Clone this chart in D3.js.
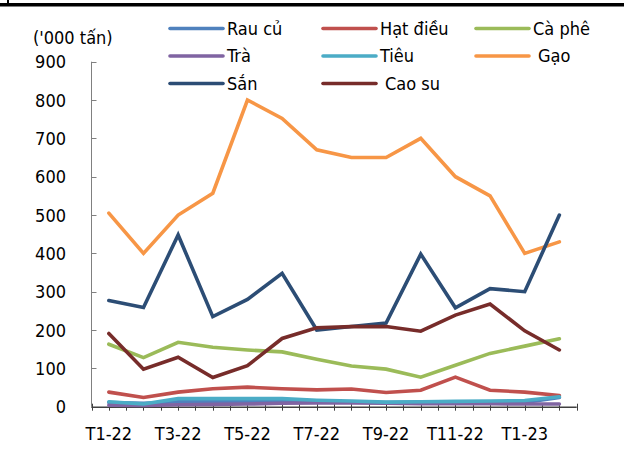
<!DOCTYPE html>
<html><head><meta charset="utf-8">
<script src="https://cdn.jsdelivr.net/npm/d3@7"></script>
<style>
html,body{margin:0;padding:0;background:#fff;}
svg text{font-family:"DejaVu Sans Condensed","DejaVu Sans",sans-serif;font-stretch:condensed;fill:#000;}
</style>
</head><body>
<svg id="c" width="624" height="450"></svg>
<script>
const months = ["T1-22","T2-22","T3-22","T4-22","T5-22","T6-22","T7-22","T8-22","T9-22","T10-22","T11-22","T12-22","T1-23","T2-23"];
const xLabels = ["T1-22","T3-22","T5-22","T7-22","T9-22","T11-22","T1-23"];
const yTicks = [0,100,200,300,400,500,600,700,800,900];
const unitLabel = "('000 tấn)";

const seriesNames = ["Rau củ","Hạt điều","Cà phê","Trà","Tiêu","Gạo","Sắn","Cao su"];
const seriesColors = ["#4F81BD","#C0504D","#9BBB59","#8064A2","#4BACC6","#F79646","#2C4D75","#772C2A"];
const rauCu   = [11, 9, 13, 14, 14, 15, 13, 12, 11, 12, 12, 12, 11, 24];
const hatDieu = [38, 24, 38, 47, 51, 47, 44, 46, 37, 43, 77, 43, 38, 29];
const caPhe   = [163, 128, 168, 155, 148, 143, 124, 106, 98, 77, 108, 139, 158, 177];
const tra     = [4, 3, 5, 6, 7, 9, 10, 10, 9, 8, 8, 8, 7, 7];
const tieu    = [13, 7, 21, 21, 21, 21, 17, 15, 12, 13, 14, 15, 16, 26];
const gao     = [505, 400, 500, 557, 800, 752, 670, 650, 650, 700, 600, 550, 400, 430];
const san     = [277, 259, 448, 235, 280, 348, 200, 209, 218, 398, 258, 308, 300, 500];
const caoSu   = [191, 98, 129, 76, 107, 178, 206, 209, 209, 197, 239, 268, 198, 148];
const seriesValues = [rauCu, hatDieu, caPhe, tra, tieu, gao, san, caoSu];

const svg = d3.select("#c");
const x = d3.scaleBand().domain(months).range([91.5, 576.7]);
const y = d3.scaleLinear().domain([0, 900]).range([406.7, 61.7]);
const cx = m => x(m) + x.bandwidth() / 2;

// top rule
svg.append("rect").attr("x", 0).attr("y", 3).attr("width", 624).attr("height", 3.5).attr("fill", "#000");
svg.append("rect").attr("x", 7).attr("y", 0).attr("width", 2).attr("height", 3).attr("fill", "#000");

// unit label
svg.append("text").attr("x", 33).attr("y", 44).attr("font-size", 18).text(unitLabel);

// y axis
const axisCol = "#808080";
const gy = svg.append("g");
gy.append("line").attr("x1", 91.5).attr("x2", 91.5).attr("y1", y(900)).attr("y2", y(0)).attr("stroke", axisCol);
gy.selectAll("line.t").data(yTicks).join("line").attr("class", "t")
  .attr("x1", 91.5).attr("x2", 96.5).attr("y1", d => Math.round(y(d)) + 0.5).attr("y2", d => Math.round(y(d)) + 0.5)
  .attr("stroke", axisCol);
gy.selectAll("text").data(yTicks).join("text")
  .attr("x", 66).attr("y", d => y(d)).attr("dy", "0.36em").attr("text-anchor", "end").attr("font-size", 18)
  .text(d => d);

// x axis
const gx = svg.append("g");
const halfTicks = [];
months.forEach(m => { halfTicks.push(x(m)); halfTicks.push(x(m) + x.bandwidth() / 2); });
halfTicks.push(x.range()[1]);
gx.selectAll("line.t").data(halfTicks).join("line").attr("class", "t")
  .attr("x1", d => Math.round(d) + 0.5).attr("x2", d => Math.round(d) + 0.5)
  .attr("y1", y(0) - 3).attr("y2", y(0) + 4).attr("stroke", "#404040");
gx.append("line").attr("x1", 91.5).attr("x2", x.range()[1]).attr("y1", y(0) + 0.5).attr("y2", y(0) + 0.5)
  .attr("stroke", "#404040").attr("stroke-width", 1.5);
gx.selectAll("text").data(xLabels).join("text")
  .attr("x", d => cx(d)).attr("y", 439.5).attr("text-anchor", "middle").attr("font-size", 18)
  .text(d => d);

// lines
const line = d3.line().x((d, i) => cx(months[i])).y(d => y(d));
seriesValues.forEach((vals, k) => {
  svg.append("path").datum(vals).attr("d", line).attr("fill", "none")
    .attr("stroke", seriesColors[k]).attr("stroke-width", 3.6)
    .attr("stroke-linejoin", "miter").attr("stroke-linecap", "round");
});

// legend
const colX = [170, 323, 476];
const rowY = [28.5, 56, 83.5];
const textOffset = [0, 0, 0, 0, 0, 5, 0, 5];
seriesNames.forEach((name, k) => {
  const c = k % 3, r = Math.floor(k / 3);
  const g = svg.append("g");
  g.append("line").attr("x1", colX[c]).attr("x2", colX[c] + 53).attr("y1", rowY[r]).attr("y2", rowY[r])
    .attr("stroke", seriesColors[k]).attr("stroke-width", 3.6).attr("stroke-linecap", "round");
  g.append("text").attr("x", colX[c] + 57 + textOffset[k]).attr("y", rowY[r]).attr("dy", "0.36em")
    .attr("font-size", 18).text(name);
});
</script>
</body></html>
